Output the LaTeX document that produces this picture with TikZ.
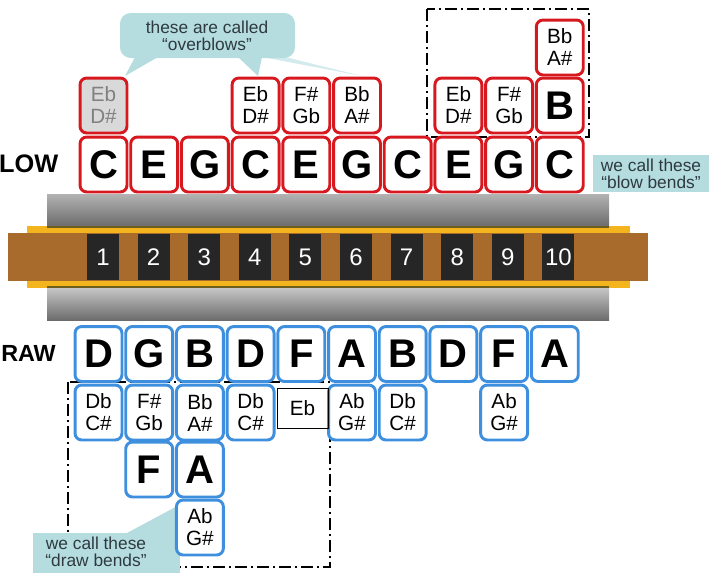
\documentclass[tikz,border=0pt]{standalone}
\usepackage{fontspec}
\setmainfont{Liberation Sans}
\definecolor{blowred}{HTML}{D7191F}
\definecolor{drawblue}{HTML}{3E8FDD}
\definecolor{calloutteal}{HTML}{B5DDE0}
\definecolor{calloutink}{HTML}{2E3A3F}
\definecolor{reedgold}{HTML}{F4B41E}
\definecolor{combbrown}{HTML}{A86B2C}
\definecolor{holeblack}{HTML}{262626}
\definecolor{edgeolive}{HTML}{6E5E1C}
\definecolor{keygray}{HTML}{D9D9D9}

\begin{document}
\begin{tikzpicture}[x=0.75pt, y=-0.75pt,
  key/.style={rounded corners=5pt, line width=2.2pt, minimum width=35.2pt, minimum height=41.2pt, inner sep=0pt, align=center},
  blowkey/.style={key, draw=blowred, fill=white},
  drawkey/.style={key, draw=drawblue, fill=white},
  bignote/.style={font=\fontsize{30}{30}\selectfont\bfseries},
  smallnote/.style={font=\fontsize{15.5}{16.5}\selectfont},
  hole/.style={fill=holeblack, minimum width=24pt, minimum height=34.5pt, inner sep=0pt, text=white, font=\fontsize{18}{18}\selectfont},
  callout/.style={fill=calloutteal, draw=none},
  callouttext/.style={text=calloutink, font=\fontsize{13}{12.5}\selectfont, align=center},
  dashdot/.style={draw=black, line width=1.5pt, dash pattern=on 9pt off 3pt on 1.5pt off 3pt}
]
  \useasboundingbox (0,0) rectangle (720,576);

  % Harmonica body
  \shade[top color=gray!60, middle color=white, bottom color=gray!85!black] (47,194) rectangle (609,226);
  \shade[top color=gray!45, middle color=white, bottom color=gray!85!black] (47,288) rectangle (609,320);
  \fill[reedgold] (27,226) rectangle (630,288);
  \draw[edgeolive, line width=1pt] (47,227) -- (609,227);
  \draw[edgeolive, line width=1pt] (47,287) -- (609,287);
  \fill[combbrown] (8,233) rectangle (648,281);
  \foreach \i in {1,...,10}
    \node[hole] (h\i) at ({103+50.6*(\i-1)},257) {\i};

  % Dash-dot groups
  \draw[dashdot] (427,9) rectangle (589,137);
  \draw[dashdot] (68,382) rectangle (330,567);

  % Callouts
  \fill[callout, rounded corners=8pt] (120,13) rectangle (295,58);
  \fill[callout] (135,57) -- (125,76) -- (158,57) -- cycle;
  \fill[callout] (238,57) -- (258,76) -- (262,57) -- cycle;
  \fill[callout, opacity=0.6] (262,57) -- (362,76) -- (285,57) -- cycle;
  \node[callouttext] (overblowtext) at (207,36) {these are called\\“overblows”};

  \fill[callout] (33,533) rectangle (180,573);
  \fill[callout] (125,534) -- (183,503) -- (178,534) -- cycle;
  \node[callouttext] (drawbendtext) at (96,552) {we call these\\“draw bends”};

  \fill[callout] (593,155) rectangle (709,192);
  \node[callouttext] (blowbendtext) at (651,174) {we call these\\“blow bends”};

  % Row labels
  \node[anchor=east, font=\fontsize{19}{19}\selectfont\bfseries] (blowlabel) at (63,164) {LOW};
  \node[anchor=west, inner sep=0pt, font=\fontsize{17.5}{17.5}\selectfont\bfseries] (drawlabel) at (1,353) {RAW};

  % Blow notes
  \foreach \note [count=\i] in {C,E,G,C,E,G,C,E,G,C}
    \node[blowkey, bignote] (blow\i) at ({103.5+50.7*(\i-1)},164.5) {\note};
  \node[blowkey, smallnote, fill=keygray, text=gray] (bend1) at (103.5,105.5) {Eb\\D\#};
  \foreach \c/\note in {4/{Eb\\D\#},5/{F\#\\Gb},6/{Bb\\A\#},8/{Eb\\D\#},9/{F\#\\Gb}}
    \node[blowkey, smallnote] (bend\c) at ({103.5+50.7*(\c-1)},105.5) {\note};
  \node[blowkey, bignote] (bend10) at (559.8,105.5) {B};
  \node[blowkey, smallnote] (bendtop10) at (559.8,47.5) {Bb\\A\#};

  % Draw notes
  \foreach \note [count=\i] in {D,G,B,D,F,A,B,D,F,A}
    \node[drawkey, bignote] (draw\i) at ({98.5+50.7*(\i-1)},354) {\note};
  \foreach \c/\note in {1/{Db\\C\#},2/{F\#\\Gb},3/{Bb\\A\#},4/{Db\\C\#},6/{Ab\\G\#},7/{Db\\C\#},9/{Ab\\G\#}}
    \node[drawkey, smallnote] (dbend\c) at ({98.5+50.7*(\c-1)},412.5) {\note};
  \node[draw=black, line width=0.6pt, minimum width=38.2pt, minimum height=30pt, inner sep=0pt, smallnote] (dbend5) at (302.5,408) {Eb};
  \node[drawkey, bignote] (dbendlow2) at (149.2,469.5) {F};
  \node[drawkey, bignote] (dbendlow3) at (199.9,469.5) {A};
  \node[drawkey, smallnote] (dbendlast3) at (199.9,527.5) {Ab\\G\#};

\end{tikzpicture}
\end{document}
